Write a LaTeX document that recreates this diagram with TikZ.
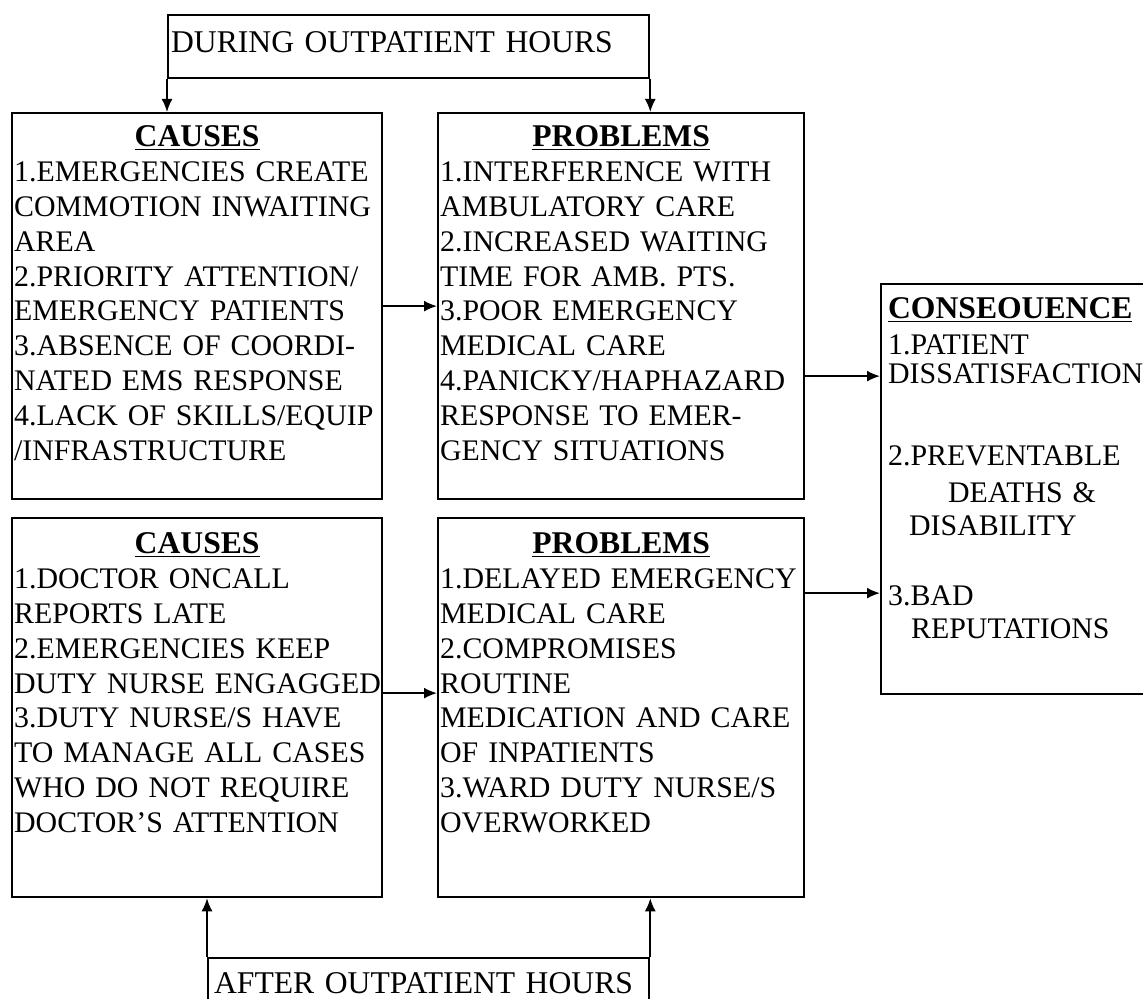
\documentclass[tikz,border=0pt]{standalone}
\usepackage{fontspec}
\setmainfont{Liberation Serif}
\usepackage{tikz}
\usetikzlibrary{positioning,arrows.meta,calc}

\newcommand{\bodyfont}{\fontsize{17}{19.9}\selectfont}
\newcommand{\headfont}{\fontsize{18}{19.9}\selectfont\bfseries}
\newcommand{\boxhead}[1]{\makebox[\linewidth]{\headfont\underline{#1}}}

\begin{document}
\begin{tikzpicture}[
    panel/.style={draw, rectangle, line width=1.3pt, anchor=north west, inner ysep=0pt, inner xsep=0.04cm, align=left, font=\bodyfont},
    hourbox/.style={panel, font=\fontsize{18}{20}\selectfont},
    arrow/.style={-{Latex[length=2.6mm,width=2.2mm]}, line width=1pt}
]
    \useasboundingbox (0,0) rectangle (22.86,19.98);
    \clip (0,0) rectangle (22.86,19.98);

    % Top: during outpatient hours
    \node[hourbox, inner xsep=0.06cm, text width=9.50cm, text height=0.74cm, text depth=0.52cm] (during) at (3.34,19.70) {DURING OUTPATIENT HOURS};

    % Upper row
    \node[panel, text width=7.32cm, text height=0.66cm, text depth=7.06cm] (causesDay) at (0.22,17.74) {\boxhead{CAUSES}\\
        1.EMERGENCIES CREATE\\
        COMMOTION INWAITING\\
        AREA\\
        2.PRIORITY ATTENTION/\\
        EMERGENCY PATIENTS\\
        3.ABSENCE OF COORDI-\\
        NATED EMS RESPONSE\\
        4.LACK OF SKILLS/EQUIP\\
        /INFRASTRUCTURE};
    \node[panel, text width=7.24cm, text height=0.66cm, text depth=7.06cm] (problemsDay) at (8.74,17.74) {\boxhead{PROBLEMS}\\
        1.INTERFERENCE WITH\\
        AMBULATORY CARE\\
        2.INCREASED WAITING\\
        TIME FOR AMB. PTS.\\
        3.POOR EMERGENCY\\
        MEDICAL CARE\\
        4.PANICKY/HAPHAZARD\\
        RESPONSE TO EMER-\\
        GENCY SITUATIONS};

    % Lower row
    \node[panel, text width=7.32cm, text height=0.70cm, text depth=6.88cm] (causesNight) at (0.22,9.64) {\boxhead{CAUSES}\\
        1.DOCTOR ONCALL\\
        REPORTS LATE\\
        2.EMERGENCIES KEEP\\
        \mbox{DUTY NURSE ENGAGGED}\\
        3.DUTY NURSE/S HAVE\\
        TO MANAGE ALL CASES\\
        WHO DO NOT REQUIRE\\
        DOCTOR’S ATTENTION};
    \node[panel, text width=7.24cm, text height=0.70cm, text depth=6.88cm] (problemsNight) at (8.74,9.64) {\boxhead{PROBLEMS}\\
        1.DELAYED EMERGENCY\\
        MEDICAL CARE\\
        2.COMPROMISES\\
        ROUTINE\\
        MEDICATION AND CARE\\
        OF INPATIENTS\\
        3.WARD DUTY NURSE/S\\
        OVERWORKED};

    % Right: consequence
    \node[panel, inner xsep=0.14cm, text width=5.72cm, text height=0.68cm, text depth=7.52cm] (consequence) at (17.60,14.32) {{\headfont\underline{CONSEOUENCE}}\\[1pt]
        1.PATIENT\\[-3.4pt]
        DISSATISFACTION\\[26.7pt]
        2.PREVENTABLE\\[1pt]
        \hspace*{1.2cm}DEATHS \&\\[-1pt]
        \hspace*{0.42cm}DISABILITY\\[19.9pt]
        3.BAD\\[-1pt]
        \hspace*{0.46cm}REPUTATIONS};

    % Bottom: after outpatient hours
    \node[hourbox, inner xsep=0.12cm, text width=8.58cm, text height=0.70cm, text depth=0.60cm] (after) at (4.14,0.84) {AFTER OUTPATIENT HOURS};

    % Arrows
    \draw[arrow] (during.south west) -- (during.south west |- causesDay.north);
    \draw[arrow] (during.south east) -- (during.south east |- problemsDay.north);
    \draw[arrow] (after.north west) -- (after.north west |- causesNight.south);
    \draw[arrow] (after.north east) -- (after.north east |- problemsNight.south);
    \draw[arrow] (causesDay.east) -- (problemsDay.west);
    \draw[arrow] ([yshift=0.29cm]causesNight.east) -- ([yshift=0.29cm]problemsNight.west);
    \draw[arrow] ([yshift=-1.40cm]problemsDay.east) -- ([yshift=-1.40cm]problemsDay.east -| consequence.west);
    \draw[arrow] ([yshift=2.29cm]problemsNight.east) -- ([yshift=2.29cm]problemsNight.east -| consequence.west);

\end{tikzpicture}
\end{document}
